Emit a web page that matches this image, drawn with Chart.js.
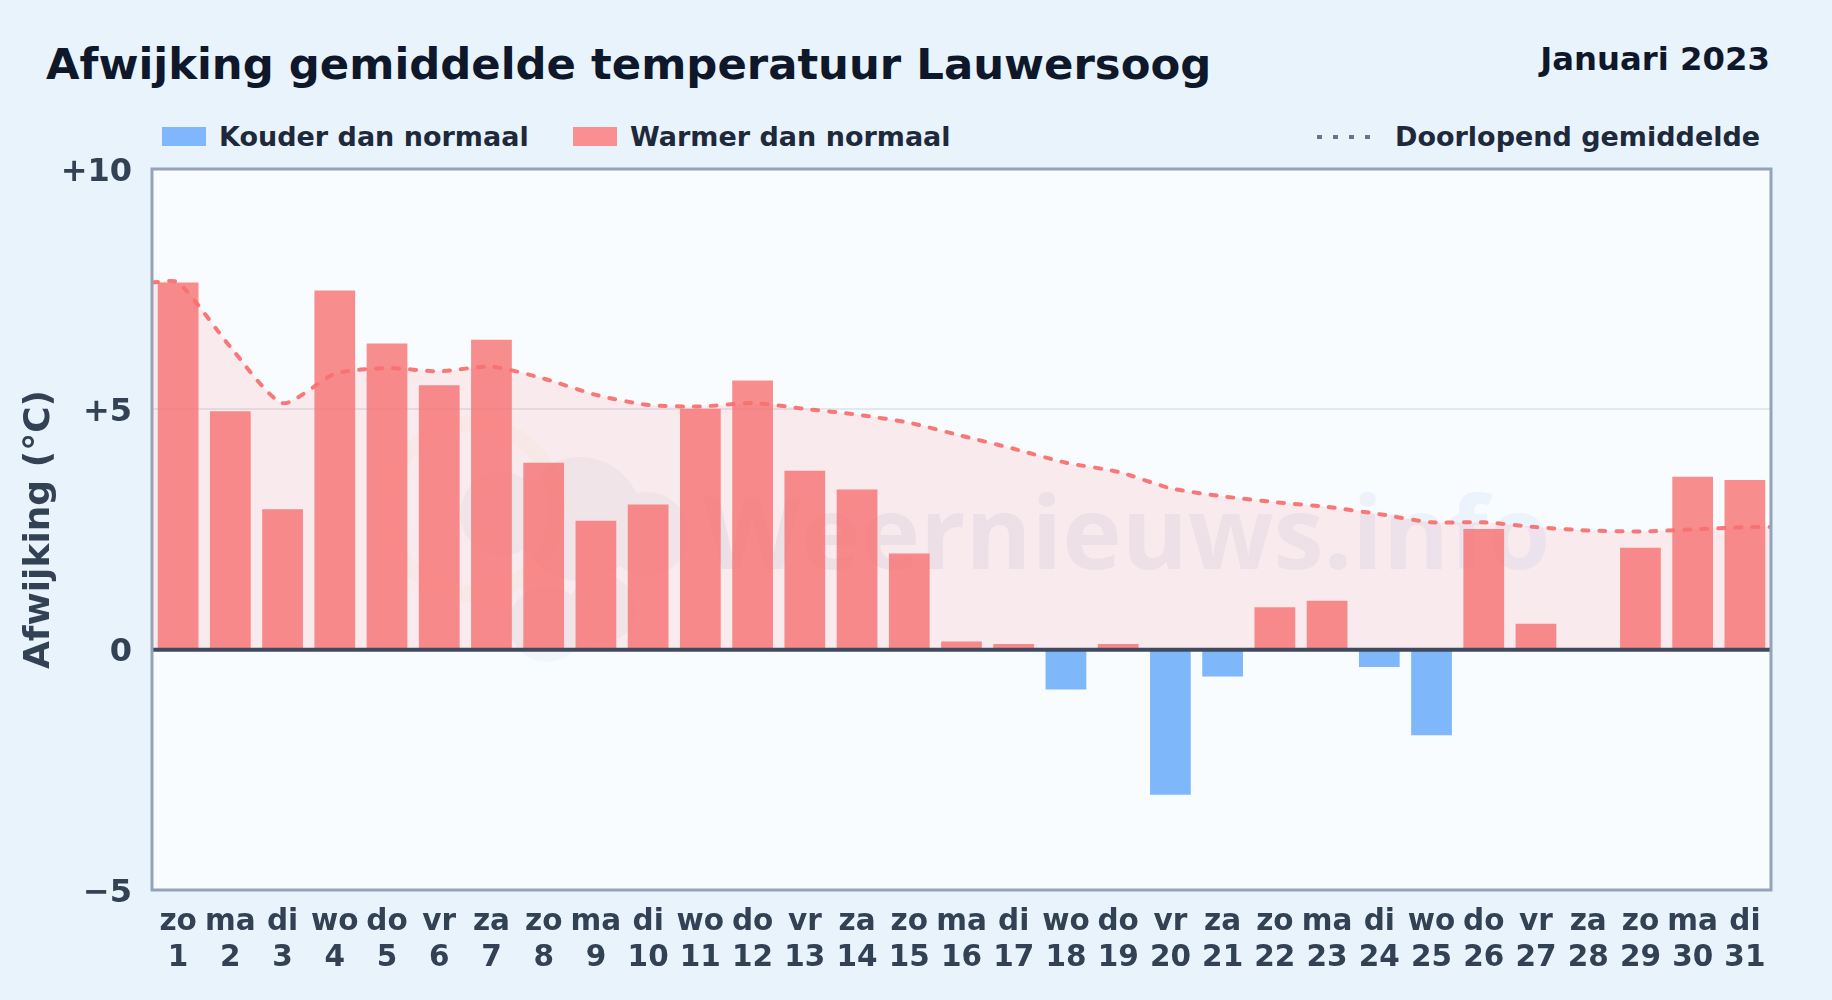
<!DOCTYPE html>
<html lang="nl">
<head>
<meta charset="utf-8">
<title>Afwijking gemiddelde temperatuur Lauwersoog</title>
<script src="https://cdn.jsdelivr.net/npm/chart.js@4/dist/chart.umd.min.js"></script>
<style>
  html, body { margin: 0; padding: 0; background: #e8f3fc; }
  body { position: relative; width: 1832px; height: 1000px; overflow: hidden; font-family: "DejaVu Sans", sans-serif; font-weight: 700; }
  canvas { position: absolute; left: 0; top: 0; }
  .txt { position: absolute; white-space: nowrap; line-height: 1; }
  #title { left: 46px; top: 43px; font-size: 43.35px; color: #0f172a; }
  #month { right: 62px; top: 43px; font-size: 32.3px; color: #0f172a; }
  .leg { top: 123px; font-size: 27px; color: #1e293b; }
  .swatch { position: absolute; top: 127px; width: 44px; height: 19px; }
  #dots { position: absolute; left: 1317px; top: 135px; }
</style>
</head>
<body>
<div class="txt" id="title">Afwijking gemiddelde temperatuur Lauwersoog</div>
<div class="txt" id="month">Januari 2023</div>
<div class="swatch" style="left:162px;background:#80b6fb"></div>
<div class="txt leg" style="left:219px">Kouder dan normaal</div>
<div class="swatch" style="left:573px;background:#f98f91"></div>
<div class="txt leg" style="left:630px">Warmer dan normaal</div>
<svg id="dots" width="60" height="4"><line x1="0" y1="2" x2="60" y2="2" stroke="#64748b" stroke-width="4" stroke-dasharray="5 11"/></svg>
<div class="txt leg" style="left:1395px">Doorlopend gemiddelde</div>
<canvas id="chart" width="1832" height="1000"></canvas>
<script>
const weekdays = ['zo','ma','di','wo','do','vr','za','zo','ma','di','wo','do','vr','za','zo','ma','di','wo','do','vr','za','zo','ma','di','wo','do','vr','za','zo','ma','di'];
const days = [1,2,3,4,5,6,7,8,9,10,11,12,13,14,15,16,17,18,19,20,21,22,23,24,25,26,27,28,29,30,31];
const deviations = [7.64,4.96,2.92,7.47,6.37,5.5,6.45,3.89,2.68,3.02,5.01,5.6,3.72,3.33,2.0,0.17,0.12,-0.83,0.12,-3.02,-0.56,0.88,1.02,-0.36,-1.78,2.51,0.54,0,2.12,3.6,3.53];
const runningMean = [7.64,6.3,5.13,5.74,5.86,5.79,5.89,5.64,5.3,5.09,5.06,5.13,5.01,4.89,4.72,4.45,4.18,3.89,3.7,3.36,3.19,3.07,2.97,2.82,2.65,2.65,2.55,2.48,2.46,2.5,2.55];
const yTicks = {'-5': '\u22125', 0: '0', 5: '+5', 10: '+10'};

const barPoints = days.map((d, i) => ({x: d, y: deviations[i]}));
// line runs on to both edges of the plot
const linePoints = [
  {x: 0.5, y: runningMean[0]},
  ...days.map((d, i) => ({x: d, y: runningMean[i]})),
  {x: 31.5, y: runningMean[runningMean.length - 1]}
];

const plotFrame = {
  id: 'plotFrame',
  beforeDraw(chart) {
    const {ctx, chartArea: a} = chart;
    ctx.save();
    ctx.fillStyle = '#f8fcff';
    ctx.fillRect(a.left, a.top, a.width, a.height);
    ctx.restore();
  },
  beforeDatasetsDraw(chart) {
    // faint logo + site name behind the bars
    const {ctx, chartArea: a} = chart;
    ctx.save();
    ctx.fillStyle = 'rgba(71,100,160,0.04)';
    ctx.beginPath();
    [[428, 350, 62], [350, 345, 42], [495, 365, 42], [395, 455, 38], [450, 440, 34]].forEach(([x, y, r]) => {
      ctx.moveTo(a.left + x + r, a.top + y);
      ctx.arc(a.left + x, a.top + y, r, 0, Math.PI * 2);
    });
    ctx.fill();
    ctx.strokeStyle = 'rgba(250,204,21,0.035)';
    ctx.lineWidth = 16;
    ctx.beginPath();
    ctx.arc(a.left + 320, a.top + 340, 85, 0, Math.PI * 2);
    ctx.stroke();
    const fade = ctx.createLinearGradient(a.left + 550, 0, a.left + 1400, 0);
    fade.addColorStop(0, 'rgba(71,70,135,0.07)');
    fade.addColorStop(0.7, 'rgba(71,70,135,0.06)');
    fade.addColorStop(1, 'rgba(59,130,246,0.07)');
    ctx.fillStyle = fade;
    ctx.font = '700 100.5px "Open Sans", sans-serif';
    ctx.textBaseline = 'alphabetic';
    ctx.fillText('Weernieuws.info', a.left + 552, a.top + 400);
    ctx.restore();
  },
  afterDatasetsDraw(chart) {
    const {ctx, chartArea: a, scales} = chart;
    const zero = scales.y.getPixelForValue(0);
    ctx.save();
    ctx.strokeStyle = '#3f4a5f';
    ctx.lineWidth = 4;
    ctx.beginPath();
    ctx.moveTo(a.left, zero);
    ctx.lineTo(a.right, zero);
    ctx.stroke();
    ctx.strokeStyle = '#94a3b8';
    ctx.lineWidth = 3;
    ctx.strokeRect(a.left, a.top, a.width, a.height);
    ctx.restore();
  }
};

new Chart(document.getElementById('chart'), {
  data: {
    datasets: [
      {
        type: 'line',
        label: 'Doorlopend gemiddelde',
        data: linePoints,
        borderColor: 'rgba(248,113,113,0.95)',
        borderWidth: 4,
        borderDash: [6, 11],
        borderCapStyle: 'round',
        backgroundColor: 'rgba(248,113,113,0.13)',
        fill: {value: 0},
        pointRadius: 0,
        tension: 0.22,
        order: 1
      },
      {
        type: 'bar',
        label: 'Afwijking',
        data: barPoints,
        backgroundColor: c => c.raw && c.raw.y < 0 ? 'rgba(96,165,250,0.8)' : 'rgba(248,113,113,0.8)',
        barPercentage: 0.78,
        categoryPercentage: 1,
        order: 2
      }
    ]
  },
  options: {
    responsive: false,
    animation: false,
    devicePixelRatio: 1,
    layout: {padding: {top: 169, right: 61, left: 0, bottom: 0}},
    plugins: {
      legend: {display: false},
      tooltip: {enabled: false},
      filler: {drawTime: 'beforeDatasetsDraw'}
    },
    scales: {
      x: {
        type: 'linear',
        offset: false,
        min: 0.5,
        max: 31.5,
        afterBuildTicks: axis => { axis.ticks = days.map(d => ({value: d})); },
        afterFit: axis => { axis.height = 110; },
        grid: {display: false},
        border: {display: false},
        ticks: {
          autoSkip: false,
          maxRotation: 0,
          minRotation: 0,
          padding: 7,
          color: '#334155',
          font: {family: '"DejaVu Sans"', size: 29.5, weight: '700', lineHeight: 1.2},
          callback: v => [weekdays[v - 1], String(v)]
        }
      },
      y: {
        min: -5,
        max: 10,
        afterBuildTicks: axis => { axis.ticks = Object.keys(yTicks).map(Number).sort((p, q) => p - q).map(v => ({value: v})); },
        afterFit: axis => { axis.width = 152; },
        grid: {color: '#e2e8f0', lineWidth: 2, drawTicks: false},
        border: {display: false},
        title: {
          display: true,
          text: 'Afwijking (\u00b0C)',
          color: '#334155',
          padding: {top: 18, bottom: 0},
          font: {family: '"DejaVu Sans"', size: 36, weight: '700'}
        },
        ticks: {
          padding: 20,
          labelOffset: 3.5,
          color: '#334155',
          font: {family: '"DejaVu Sans"', size: 32, weight: '700'},
          callback: v => yTicks[v]
        }
      }
    }
  },
  plugins: [plotFrame]
});
</script>
</body>
</html>
